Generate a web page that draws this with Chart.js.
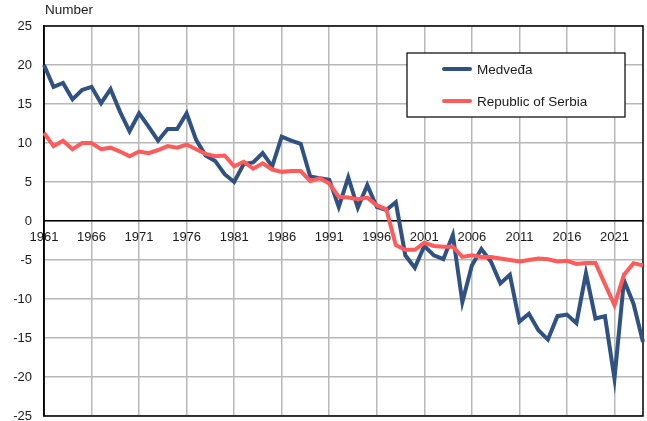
<!DOCTYPE html>
<html>
<head>
<meta charset="utf-8">
<script src="https://cdn.jsdelivr.net/npm/chart.js@4/dist/chart.umd.min.js"></script>
<style>
html, body { margin: 0; padding: 0; background: #fff; }
</style>
</head>
<body>
<canvas id="chart_canvas" width="647" height="421"></canvas>
<script>
var years = ['1961','1962','1963','1964','1965','1966','1967','1968','1969','1970',
    '1971','1972','1973','1974','1975','1976','1977','1978','1979','1980',
    '1981','1982','1983','1984','1985','1986','1987','1988','1989','1990',
    '1991','1992','1993','1994','1995','1996','1997','1998','1999','2000',
    '2001','2002','2003','2004','2005','2006','2007','2008','2009','2010',
    '2011','2012','2013','2014','2015','2016','2017','2018','2019','2020',
    '2021','2022','2023','2024'];

var medveda = [20.0, 17.2, 17.7, 15.6, 16.8, 17.2, 15.1, 16.9, 14.0, 11.5,
    13.8, 12.1, 10.3, 11.8, 11.8, 13.8, 10.4, 8.4, 7.7, 6.0,
    5.0, 7.3, 7.5, 8.7, 7.0, 10.8, 10.3, 9.9, 5.7, 5.5,
    5.3, 1.8, 5.6, 1.7, 4.6, 1.8, 1.4, 2.4, -4.4, -6.0,
    -3.2, -4.4, -4.9, -1.8, -10.4, -5.7, -3.6, -5.2, -8.0, -6.9,
    -12.9, -11.9, -14.0, -15.2, -12.2, -12.0, -13.1, -6.7, -12.5, -12.2,
    -20.2, -7.6, -10.6, -15.5];

var serbia = [11.3, 9.6, 10.3, 9.2, 10.0, 10.0, 9.2, 9.4, 8.9, 8.3,
    8.9, 8.7, 9.1, 9.6, 9.4, 9.8, 9.2, 8.6, 8.3, 8.4,
    7.0, 7.6, 6.7, 7.4, 6.6, 6.3, 6.4, 6.4, 5.1, 5.5,
    4.8, 3.1, 3.0, 2.8, 3.0, 2.0, 1.5, -3.1, -3.7, -3.7,
    -2.8, -3.2, -3.3, -3.3, -4.6, -4.4, -4.6, -4.6, -4.8, -5.0,
    -5.2, -5.0, -4.8, -4.9, -5.2, -5.1, -5.5, -5.4, -5.4, -8.1,
    -10.8, -6.9, -5.4, -5.7];

var tickYears = ['1961','1966','1971','1976','1981','1986','1991','1996','2001','2006','2011','2016','2021'];

var yMin = -25, yMax = 25, yStep = 5;
var font = 'Liberation Sans, Arial, sans-serif';

function noPad(s) {
    s.paddingTop = 0;
    s.paddingBottom = 0;
    s.paddingLeft = 0;
    s.paddingRight = 0;
}

var extras = {
    id: 'extras',
    beforeDatasetsDraw: function(chart) {
        var a = chart.chartArea, c = chart.ctx;
        c.save();
        c.strokeStyle = '#000';
        c.lineWidth = 1.5;
        c.strokeRect(a.left, a.top, a.right - a.left, a.bottom - a.top);
        c.restore();
    },
    afterDraw: function(chart) {
        var a = chart.chartArea, c = chart.ctx;
        c.save();
        c.fillStyle = '#1a1a1a';
        c.font = '13.5px ' + font;
        c.textBaseline = 'middle';
        c.textAlign = 'left';
        c.fillText('Number', a.left + 1, 10);

        // legend box
        var bx = 407, by = 53, bw = 218, bh = 64;
        c.fillStyle = '#fff';
        c.fillRect(bx, by, bw, bh);
        c.strokeStyle = '#000';
        c.lineWidth = 1.2;
        c.strokeRect(bx, by, bw, bh);
        var ds = chart.data.datasets;
        for (var i = 0; i < ds.length; i++) {
            var yy = by + 16 + i * 32;
            c.strokeStyle = ds[i].borderColor;
            c.lineWidth = 4;
            c.lineCap = 'round';
            c.beginPath();
            c.moveTo(444, yy);
            c.lineTo(470, yy);
            c.stroke();
            c.fillStyle = '#1a1a1a';
            c.fillText(ds[i].label, 477, yy + 1);
        }
        c.restore();
    }
};

var ctx = document.getElementById('chart_canvas').getContext('2d');
var myChart = new Chart(ctx, {
    type: 'line',
    data: {
        labels: years,
        datasets: [
            { label: 'Medveđa', data: medveda, borderColor: '#2F5283', borderWidth: 4,
              pointRadius: 0, tension: 0, fill: false, order: 1 },
            { label: 'Republic of Serbia', data: serbia, borderColor: '#FF5B5B', borderWidth: 4,
              pointRadius: 0, tension: 0, fill: false, order: 0 }
        ]
    },
    options: {
        responsive: false,
        animation: false,
        events: [],
        layout: { padding: { left: 0, top: 26, right: 4, bottom: 5 } },
        plugins: { legend: { display: false }, tooltip: { enabled: false } },
        scales: {
            x: {
                type: 'category',
                position: { y: 0 },
                offset: false,
                afterFit: function(s) { s.height = 0; noPad(s); },
                grid: {
                    color: '#b8b8b8',
                    lineWidth: 1.5,
                    drawTicks: false
                },
                border: { display: true, color: '#000', width: 1.5 },
                ticks: {
                    autoSkip: false,
                    maxRotation: 0,
                    padding: 9,
                    color: '#1a1a1a',
                    font: { family: font, size: 13 },
                    callback: function(v, i) {
                        var lab = years[i];
                        return tickYears.indexOf(lab) >= 0 ? lab : null;
                    }
                }
            },
            y: {
                min: yMin,
                max: yMax,
                afterFit: function(s) { s.width = 44; noPad(s); },
                grid: { color: '#b8b8b8', lineWidth: 1.5, drawTicks: false },
                border: { display: true, color: '#000', width: 1.5 },
                ticks: {
                    stepSize: yStep,
                    padding: 12,
                    color: '#1a1a1a',
                    font: { family: font, size: 13 }
                }
            }
        }
    },
    plugins: [extras]
});
</script>
</body>
</html>
